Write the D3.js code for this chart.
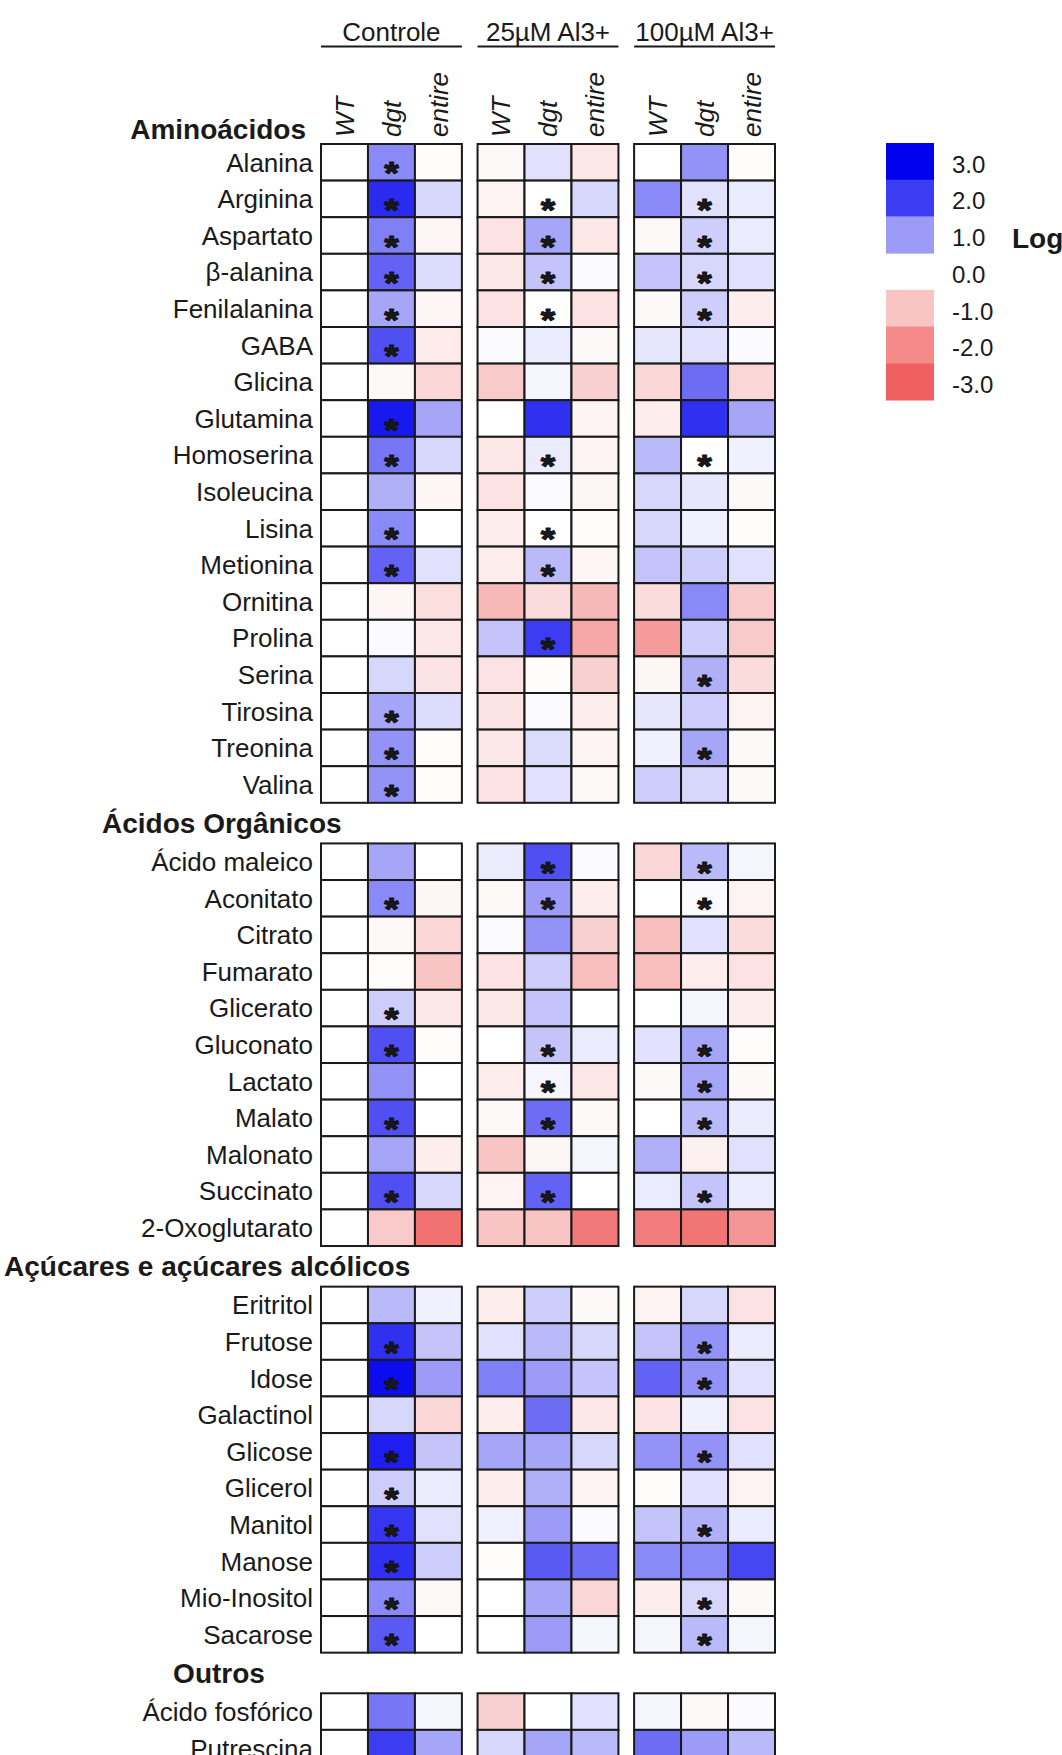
<!DOCTYPE html>
<html>
<head>
<meta charset="utf-8">
<script src="https://cdn.jsdelivr.net/npm/d3@7"></script>
<style>
  html, body { margin: 0; padding: 0; background: #fff; }
  svg { display: block; }
  text { font-family: "Liberation Sans", Arial, sans-serif; fill: #1a1a1a; }
</style>
</head>
<body>
<div id="chart"></div>
<script>
// Treatments (column groups) and genotypes (columns inside each group)
const groups = ["Controle", "25µM Al3+", "100µM Al3+"];
const genotypes = ["WT", "dgt", "entire"];

// Section titles
const sections = ["Aminoácidos", "Ácidos Orgânicos", "Açúcares e açúcares alcólicos", "Outros"];

// Log fold-change values, 9 per row: Controle WT/dgt/entire, 25µM WT/dgt/entire, 100µM WT/dgt/entire
const aminoNames = ["Alanina", "Arginina", "Aspartato", "β-alanina", "Fenilalanina", "GABA", "Glicina",
  "Glutamina", "Homoserina", "Isoleucina", "Lisina", "Metionina", "Ornitina", "Prolina", "Serina",
  "Tirosina", "Treonina", "Valina"];
const aminoValues = [
  [0, 1.2, -0.05, -0.1, 0.3, -0.4, 0, 1.1, -0.05],
  [0, 2.3, 0.4, -0.2, 0, 0.4, 1.2, 0.3, 0.2],
  [0, 1.3, -0.15, -0.5, 0.9, -0.4, -0.1, 0.5, 0.2],
  [0, 1.6, 0.35, -0.4, 0.6, 0.05, 0.6, 0.4, 0.3],
  [0, 0.9, -0.15, -0.5, 0, -0.5, -0.1, 0.5, -0.3],
  [0, 1.8, -0.35, 0.05, 0.2, -0.1, 0.25, 0.3, 0.05],
  [0, -0.1, -0.7, -0.9, 0.1, -0.8, -0.7, 1.5, -0.7],
  [0, 2.6, 0.9, 0, 2.2, -0.2, -0.3, 2.2, 0.9],
  [0, 1.4, 0.4, -0.4, 0.2, -0.2, 0.7, 0, 0.15],
  [0, 0.8, -0.15, -0.5, 0.05, -0.15, 0.4, 0.25, -0.1],
  [0, 1.2, 0, -0.3, 0, -0.05, 0.4, 0.15, -0.05],
  [0, 1.6, 0.3, -0.3, 0.7, -0.15, 0.6, 0.5, 0.3],
  [0, -0.15, -0.55, -1.2, -0.6, -1.2, -0.6, 1.2, -0.9],
  [0, 0.05, -0.4, 0.6, 2.0, -1.5, -1.7, 0.5, -0.9],
  [0, 0.4, -0.45, -0.5, -0.05, -0.8, -0.15, 0.8, -0.6],
  [0, 0.9, 0.35, -0.45, 0.05, -0.3, 0.25, 0.5, -0.2],
  [0, 1.1, -0.05, -0.4, 0.35, -0.2, 0.15, 0.9, -0.1],
  [0, 1.1, -0.05, -0.5, 0.3, -0.1, 0.5, 0.4, -0.1]
];
// Significance of dgt vs WT in each treatment (Controle, 25µM, 100µM)
const aminoSig = [
  [1, 0, 0], [1, 1, 1], [1, 1, 1], [1, 1, 1], [1, 1, 1], [1, 0, 0], [0, 0, 0], [1, 0, 0], [1, 1, 1],
  [0, 0, 0], [1, 1, 0], [1, 1, 0], [0, 0, 0], [0, 1, 0], [0, 0, 1], [1, 0, 0], [1, 0, 1], [1, 0, 0]
];

const acidNames = ["Ácido maleico", "Aconitato", "Citrato", "Fumarato", "Glicerato", "Gluconato",
  "Lactato", "Malato", "Malonato", "Succinato", "2-Oxoglutarato"];
const acidValues = [
  [0, 0.9, 0, 0.2, 1.8, 0.05, -0.7, 0.7, 0.1],
  [0, 1.2, -0.15, -0.1, 1.0, -0.3, 0, 0.05, -0.2],
  [0, -0.1, -0.7, 0.05, 1.1, -0.8, -1.1, 0.3, -0.6],
  [0, -0.05, -1.0, -0.5, 0.5, -1.1, -1.1, -0.3, -0.5],
  [0, 0.5, -0.4, -0.4, 0.6, 0, 0, 0.1, -0.3],
  [0, 1.8, -0.05, 0, 0.6, 0.2, 0.3, 0.9, -0.05],
  [0, 1.1, 0, -0.3, 0.1, -0.4, -0.1, 0.9, -0.1],
  [0, 1.8, 0, -0.1, 1.5, -0.1, 0, 0.7, 0.2],
  [0, 0.9, -0.3, -1.0, -0.15, 0.1, 0.8, -0.25, 0.3],
  [0, 1.8, 0.4, -0.2, 1.6, 0, 0.2, 0.6, 0.2],
  [0, -0.9, -2.6, -1.0, -1.0, -2.4, -2.3, -2.5, -1.8]
];
const acidSig = [
  [0, 1, 1], [1, 1, 1], [0, 0, 0], [0, 0, 0], [1, 0, 0], [1, 1, 1], [0, 1, 1], [1, 1, 1], [0, 0, 0],
  [1, 1, 1], [0, 0, 0]
];

const sugarNames = ["Eritritol", "Frutose", "Idose", "Galactinol", "Glicose", "Glicerol", "Manitol",
  "Manose", "Mio-Inositol", "Sacarose"];
const sugarValues = [
  [0, 0.7, 0.15, -0.3, 0.5, -0.1, -0.2, 0.4, -0.5],
  [0, 2.2, 0.6, 0.3, 0.7, 0.4, 0.6, 1.1, 0.2],
  [0, 2.8, 1.0, 1.3, 1.0, 0.6, 1.6, 1.1, 0.3],
  [0, 0.4, -0.7, -0.3, 1.5, -0.4, -0.5, 0.15, -0.5],
  [0, 2.5, 0.6, 0.9, 0.9, 0.4, 1.1, 1.1, 0.3],
  [0, 0.5, 0.2, -0.3, 0.8, -0.2, -0.05, 0.3, -0.2],
  [0, 2.1, 0.3, 0.15, 1.0, 0.05, 0.6, 0.8, 0.2],
  [0, 2.2, 0.5, -0.05, 1.7, 1.5, 1.2, 1.2, 1.9],
  [0, 1.2, -0.1, 0, 0.9, -0.7, -0.3, 0.4, -0.1],
  [0, 1.7, 0, 0, 1.0, 0.1, 0.1, 0.7, 0.1]
];
const sugarSig = [
  [0, 0, 0], [1, 0, 1], [1, 0, 1], [0, 0, 0], [1, 0, 1], [1, 0, 0], [1, 0, 1], [1, 0, 0], [1, 0, 1],
  [1, 0, 1]
];

const otherNames = ["Ácido fosfórico", "Putrescina"];
const otherValues = [
  [0, 1.4, 0.1, -0.8, 0, 0.3, 0.1, -0.1, 0.05],
  [0, 2.0, 0.9, 0.4, 0.9, 0.7, 1.5, 1.0, 0.7]
];
const otherSig = [[0, 0, 0], [0, 0, 0]];

// Colour key
const legendTicks = [3, 2, 1, 0, -1, -2, -3];
const legendTitle = "Log";

// ---------------------------------------------------------------
const width = 1062, height = 1755;
const svg = d3.select("#chart").append("svg")
  .attr("width", width).attr("height", height)
  .attr("viewBox", [0, 0, width, height]);
svg.append("rect").attr("width", width).attr("height", height).attr("fill", "#fff");

const color = d3.scaleLinear()
  .domain([-3, -2, -1, 0, 1, 2, 3])
  .range(["#f06060", "#f48a8a", "#f8c4c4", "#ffffff", "#9c9cf8", "#3c3cf2", "#0000ee"])
  .clamp(true);

const xGroup = d3.scaleBand().domain(groups).range([321, 775]).paddingInner(0.1);
const xCol = d3.scaleBand().domain(genotypes).range([0, xGroup.bandwidth()]);

// Rows are laid out on a slot axis; each new section leaves a gap for its title
const sectionGap = 1.11;
const blocks = [
  {title: sections[0], names: aminoNames, values: aminoValues, sig: aminoSig},
  {title: sections[1], names: acidNames, values: acidValues, sig: acidSig},
  {title: sections[2], names: sugarNames, values: sugarValues, sig: sugarSig},
  {title: sections[3], names: otherNames, values: otherValues, sig: otherSig}
];
let slot = 0;
const rows = [];
blocks.forEach((b, bi) => {
  if (bi > 0) slot += sectionGap;
  b.startSlot = slot;
  b.names.forEach((n, i) => {
    rows.push({name: n, values: b.values[i], sig: b.sig[i], slot: slot});
    slot += 1;
  });
  b.endSlot = slot;
});

const y = d3.scaleLinear().domain([0, 1]).range([144, 180.6]);
const rowH = y(1) - y(0);

// Treatment headers with underline
const head = svg.append("g");
head.selectAll("text.grp").data(groups).join("text")
  .attr("class", "grp")
  .attr("x", g => xGroup(g) + xGroup.bandwidth() / 2)
  .attr("y", 41)
  .attr("text-anchor", "middle")
  .attr("font-size", 26)
  .text(g => g);
head.selectAll("line.grp").data(groups).join("line")
  .attr("class", "grp")
  .attr("x1", g => xGroup(g)).attr("x2", g => xGroup(g) + xGroup.bandwidth())
  .attr("y1", 46.5).attr("y2", 46.5)
  .attr("stroke", "#1a1a1a").attr("stroke-width", 2);

// Genotype labels, rotated
const colLabels = [];
groups.forEach(g => genotypes.forEach(c => colLabels.push({g, c})));
head.selectAll("text.col").data(colLabels).join("text")
  .attr("class", "col")
  .attr("transform", d => `translate(${xGroup(d.g) + xCol(d.c) + xCol.bandwidth() / 2},137) rotate(-90)`)
  .attr("dy", "0.35em")
  .attr("font-size", 26)
  .attr("font-style", "italic")
  .text(d => d.c);

// Section titles
const titles = svg.append("g").attr("font-weight", "bold").attr("font-size", 28);
titles.append("text").attr("x", 306).attr("y", 139).attr("text-anchor", "end").text(blocks[0].title);
const midGap = b => (y(b.startSlot - sectionGap) + y(b.startSlot)) / 2;
titles.append("text").attr("x", 102).attr("y", midGap(blocks[1])).attr("dy", "0.35em").text(blocks[1].title);
titles.append("text").attr("x", 4).attr("y", midGap(blocks[2])).attr("dy", "0.35em").text(blocks[2].title);
titles.append("text").attr("x", 219).attr("y", midGap(blocks[3])).attr("dy", "0.35em")
  .attr("text-anchor", "middle").text(blocks[3].title);

// Row labels
svg.append("g").selectAll("text").data(rows).join("text")
  .attr("x", 313)
  .attr("y", d => y(d.slot) + rowH / 2)
  .attr("dy", "0.36em")
  .attr("text-anchor", "end")
  .attr("font-size", 26)
  .text(d => d.name);

// Heat map cells
const cells = [];
rows.forEach(r => groups.forEach((g, gi) => genotypes.forEach((c, ci) => {
  cells.push({r, g, c, v: r.values[gi * 3 + ci], star: c === "dgt" && r.sig[gi] === 1});
})));
const cellG = svg.append("g");
cellG.selectAll("rect").data(cells).join("rect")
  .attr("x", d => xGroup(d.g) + xCol(d.c))
  .attr("y", d => y(d.r.slot))
  .attr("width", xCol.bandwidth())
  .attr("height", rowH)
  .attr("fill", d => color(d.v))
  .attr("stroke", "#1a1a1a")
  .attr("stroke-width", 2);

// Significance marks (text box kept within one row height)
cellG.selectAll("text").data(cells.filter(d => d.star)).join("text")
  .attr("x", d => xGroup(d.g) + xCol(d.c) + xCol.bandwidth() / 2)
  .attr("y", d => y(d.r.slot) + rowH / 2 + 22)
  .attr("text-anchor", "middle")
  .attr("font-size", 32)
  .attr("font-weight", "bold")
  .attr("textLength", 14.5)
  .attr("lengthAdjust", "spacingAndGlyphs")
  .attr("fill", "#111")
  .attr("stroke", "#111")
  .attr("stroke-width", 1.1)
  .attr("stroke-linejoin", "round")
  .text("*");

// Colour key
const yLeg = d3.scaleBand().domain(legendTicks).range([143, 400]);
const fmt = v => d3.format(".1f")(v).replace("\u2212", "-");
const leg = svg.append("g");
leg.selectAll("rect").data(legendTicks.filter(t => t !== 0)).join("rect")
  .attr("x", 886).attr("width", 48)
  .attr("y", t => yLeg(t)).attr("height", yLeg.bandwidth() + 0.5)
  .attr("fill", t => color(t));
leg.selectAll("text").data(legendTicks).join("text")
  .attr("x", 952)
  .attr("y", t => yLeg(t) + yLeg.bandwidth() / 2 + 3)
  .attr("dy", "0.35em")
  .attr("font-size", 24)
  .attr("fill", "#333")
  .text(fmt);
leg.append("text")
  .attr("x", 1012)
  .attr("y", yLeg(1) + yLeg.bandwidth() / 2 + 3)
  .attr("dy", "0.35em")
  .attr("font-size", 28)
  .attr("font-weight", "bold")
  .text(legendTitle);
</script>
</body>
</html>
